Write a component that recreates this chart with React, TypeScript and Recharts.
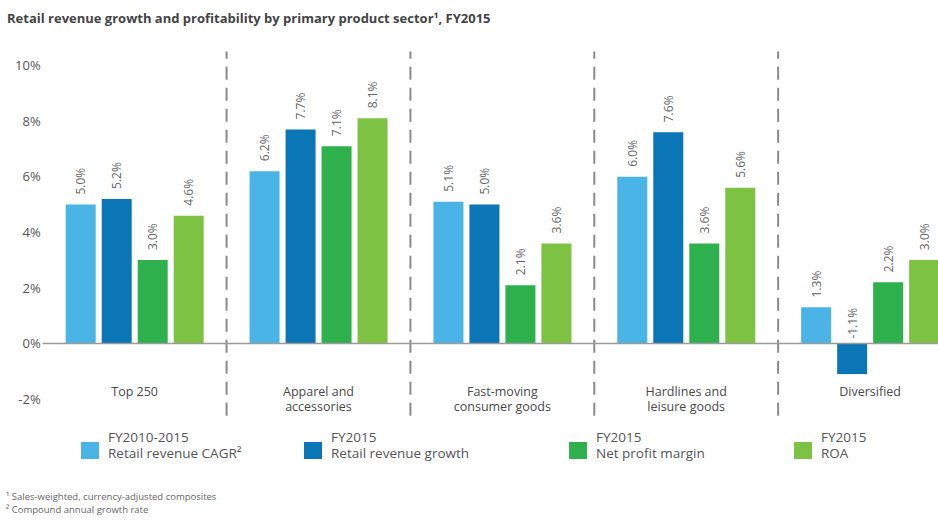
// Retail revenue growth & profitability by product sector, FY2015 (Recharts).
// - 5 sectors x 4 series, rotated value labels above each bar.
// - dashed dividers at each sector's band start (ReferenceLine position="start").
import { BarChart, Bar, XAxis, YAxis, ReferenceLine, LabelList } from "recharts";

const categories = [
  ["Top 250"],
  ["Apparel and", "accessories"],
  ["Fast-moving", "consumer goods"],
  ["Hardlines and", "leisure goods"],
  ["Diversified"],
];
const cagr = [5.0, 6.2, 5.1, 6.0, 1.3];
const revenueGrowth = [5.2, 7.7, 5.0, 7.6, -1.1];
const netMargin = [3.0, 7.1, 2.1, 3.6, 2.2];
const roa = [4.6, 8.1, 3.6, 5.6, 3.0];
const yTicks = [-2, 0, 2, 4, 6, 8, 10];

const series = [
  { key: "cagr", color: "#4BB4E6", top: "FY2010-2015", bottom: "Retail revenue CAGR²" },
  { key: "growth", color: "#0B76B5", top: "FY2015", bottom: "Retail revenue growth" },
  { key: "margin", color: "#2EB14C", top: "FY2015", bottom: "Net profit margin" },
  { key: "roa", color: "#7DC243", top: "FY2015", bottom: "ROA" },
];
const legendX = [81, 304, 569, 794];

const FONT = "'Open Sans', 'DejaVu Sans', sans-serif";

const data = categories.map((c, i) => ({
  name: c.join("\n"),
  cagr: cagr[i],
  growth: revenueGrowth[i],
  margin: netMargin[i],
  roa: roa[i],
}));

// 세로 회전 라벨: 양수는 막대 위, 음수는 0선 위
function RotLabel(props: any) {
  const { x, y, width, height, value } = props;
  const cx = x + width / 2;
  const top = Math.min(y, y + height);
  const ay = value >= 0 ? top - 10 : top - 5;
  return (
    <text
      x={cx}
      y={ay}
      transform={`rotate(-90 ${cx} ${ay})`}
      textAnchor="start"
      dominantBaseline="central"
      fontSize={12}
      fill="#666"
      fontFamily={FONT}
    >
      {`${Number(value).toFixed(1)}%`}
    </text>
  );
}

// 두 줄 카테고리 라벨: 줄마다 별도 text
function CatTick(props: any) {
  const { x, y, payload } = props;
  const lines = String(payload.value).split("\n");
  return (
    <g>
      {lines.map((l, i) => (
        <text
          key={i}
          x={x}
          y={y - 20 + i * 15}
          textAnchor="middle"
          fontSize={12.5}
          fill="#4a4a4a"
          fontFamily={FONT}
        >
          {l}
        </text>
      ))}
    </g>
  );
}

export default function App() {
  return (
    <div
      style={{
        position: "fixed",
        left: 0,
        top: 0,
        width: 938,
        height: 520,
        overflow: "hidden",
        background: "#fff",
        fontFamily: FONT,
      }}
    >
      <div
        style={{
          position: "absolute",
          left: 7,
          top: 9,
          fontSize: 13,
          fontWeight: 700,
          color: "#444",
          whiteSpace: "nowrap",
        }}
      >
        Retail revenue growth and profitability by primary product sector¹, FY2015
      </div>

      <div style={{ position: "absolute", left: 0, top: 0 }}>
        <BarChart
          width={962}
          height={520}
          data={data}
          margin={{ top: 51.6, right: 0, bottom: 74.2, left: 2.7 }}
          barSize={30}
          barGap={6}
        >
          <XAxis
            dataKey="name"
            height={30}
            axisLine={false}
            tickLine={false}
            tickSize={0}
            tickMargin={0}
            interval={0}
            tick={<CatTick />}
          />
          <YAxis
            width={40}
            domain={[-2.6, 10.5]}
            ticks={yTicks}
            interval={0}
            axisLine={false}
            tickLine={false}
            tickSize={0}
            tickMargin={2}
            tickFormatter={(v: number) => `${v}%`}
            tick={{ fontSize: 13, fill: "#555", fontFamily: FONT }}
          />
          {data.slice(1).map((d) => (
            <ReferenceLine
              key={d.name}
              x={d.name}
              position="start"
              stroke="#8a8a8a"
              strokeWidth={2}
              strokeDasharray="13 8"
            />
          ))}
          <ReferenceLine y={0} stroke="#9a9a9a" strokeWidth={1.5} />
          {series.map((s) => (
            <Bar key={s.key} dataKey={s.key} fill={s.color} isAnimationActive={false}>
              <LabelList dataKey={s.key} content={<RotLabel />} />
            </Bar>
          ))}
        </BarChart>
      </div>

      {series.map((s, i) => (
        <div key={s.key}>
          <div
            style={{
              position: "absolute",
              left: legendX[i],
              top: 442,
              width: 18,
              height: 17,
              background: s.color,
            }}
          />
          <div
            style={{
              position: "absolute",
              left: legendX[i] + 27,
              top: 429,
              fontSize: 13.5,
              lineHeight: "16px",
              color: "#555",
              whiteSpace: "nowrap",
            }}
          >
            {s.top}
            <br />
            {s.bottom}
          </div>
        </div>
      ))}

      <div
        style={{
          position: "absolute",
          left: 6,
          top: 490,
          fontSize: 9.5,
          lineHeight: "13px",
          color: "#666",
        }}
      >
        ¹ Sales-weighted, currency-adjusted composites
        <br />² Compound annual growth rate
      </div>
    </div>
  );
}
